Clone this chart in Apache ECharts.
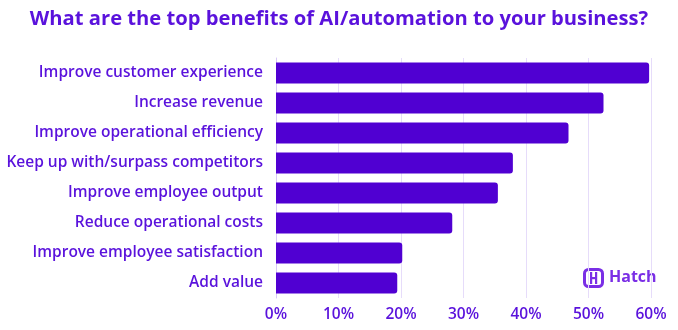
<!DOCTYPE html>
<html>
<head>
<meta charset="utf-8">
<script src="https://cdn.jsdelivr.net/npm/echarts@6/dist/echarts.min.js"></script>
<style>
  html, body { margin: 0; padding: 0; background: #ffffff; }
  #chart { width: 678px; height: 330px; }
</style>
</head>
<body>
<div id="chart"></div>
<script>
// Survey answers, top to bottom
const benefits = [
  'Improve customer experience',
  'Increase revenue',
  'Improve operational efficiency',
  'Keep up with/surpass competitors',
  'Improve employee output',
  'Reduce operational costs',
  'Improve employee satisfaction',
  'Add value'
];
// Share of respondents (%)
const shares = [59.7, 52.4, 46.8, 37.9, 35.5, 28.2, 20.2, 19.4];
// Horizontal axis ticks
const tickMin = 0;
const tickMax = 60;
const tickStep = 10;

const ink = '#5a12dc';
const barColor = '#5000d2';
const logoInk = '#7a2ee6';
const fontFamily = '"Open Sans", "Noto Sans", sans-serif';

const chart = echarts.init(document.getElementById('chart'), null, { renderer: 'canvas' });

chart.setOption({
  animation: false,
  backgroundColor: '#ffffff',
  title: {
    text: 'What are the top benefits of AI/automation to your business?',
    left: 'center',
    top: 4,
    textStyle: { color: ink, fontFamily, fontWeight: 'bold', fontSize: 20.2 }
  },
  grid: { left: 276, right: 27, top: 58, bottom: 32, containLabel: false },
  xAxis: {
    type: 'value',
    min: tickMin,
    max: tickMax,
    interval: tickStep,
    axisLine: { show: false },
    axisTick: { show: false },
    axisLabel: {
      formatter: '{value}%',
      color: ink,
      fontFamily,
      fontWeight: 600,
      fontSize: 15.5,
      margin: 9
    },
    splitLine: { show: true, lineStyle: { color: '#e6dcfa', width: 1 } }
  },
  yAxis: {
    type: 'category',
    inverse: true,
    data: benefits,
    axisLine: { show: true, lineStyle: { color: '#d8c8f6', width: 1 } },
    axisTick: { show: false },
    axisLabel: {
      color: ink,
      fontFamily,
      fontWeight: 600,
      fontSize: 15.5,
      margin: 13
    }
  },
  series: [{
    type: 'bar',
    data: shares,
    barWidth: 21,
    itemStyle: {
      color: barColor,
      borderRadius: [0, 3, 3, 0]
    }
  }],
  graphic: [
    {
      type: 'group',
      left: 582,
      top: 267,
      children: [
        {
          type: 'rect',
          shape: { x: 1.5, y: 1.5, width: 18, height: 17, r: 4 },
          style: { fill: 'none', stroke: logoInk, lineWidth: 3 }
        },
        {
          type: 'rect',
          shape: { x: 7, y: 4, width: 2.2, height: 12 },
          style: { fill: logoInk }
        },
        {
          type: 'rect',
          shape: { x: 12, y: 4, width: 2.2, height: 12 },
          style: { fill: logoInk }
        },
        {
          type: 'rect',
          shape: { x: 7, y: 9, width: 7, height: 2.2 },
          style: { fill: logoInk }
        }
      ]
    },
    {
      type: 'text',
      left: 609,
      top: 269,
      style: {
        text: 'Hatch',
        fill: logoInk,
        font: 'bold 16px "Open Sans", "Noto Sans", sans-serif'
      }
    }
  ]
});
</script>
</body>
</html>
